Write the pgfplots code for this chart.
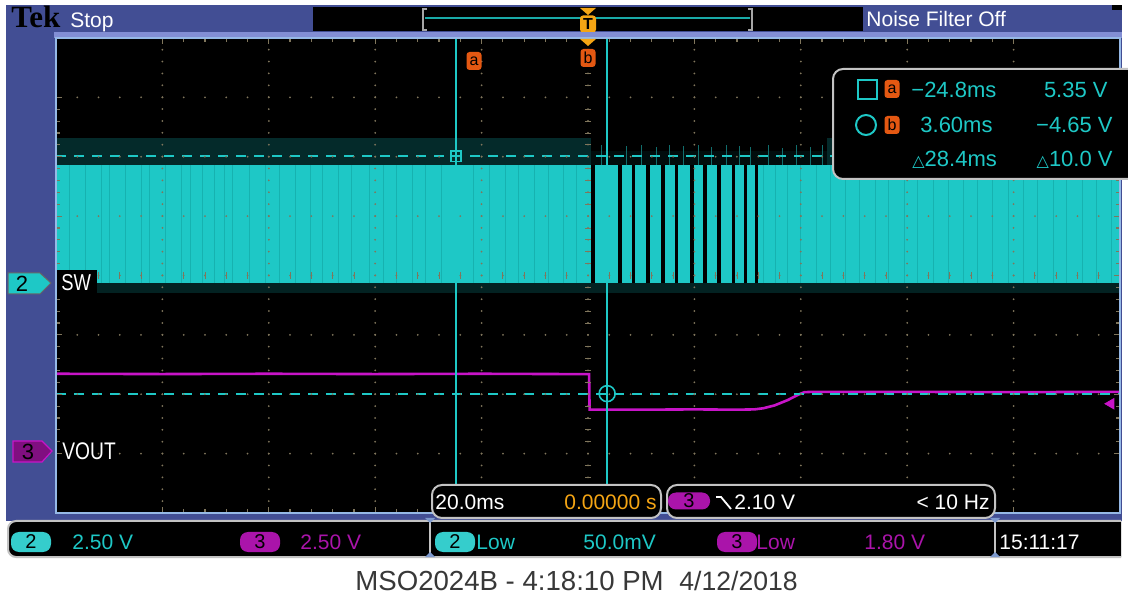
\documentclass[border=0pt]{standalone}
\usepackage{pgfplots}
\pgfplotsset{compat=1.18}
\usepackage{fontspec}
\setmainfont{Liberation Sans}
\newfontfamily\tek[FakeStretch=0.8]{Liberation Sans}
\newfontfamily\tekserif{Liberation Serif}
\newfontfamily\sym{DejaVu Sans}
\newcommand\fs[1]{\fontsize{#1}{#1}\selectfont}

\definecolor{frameblue}{RGB}{66,78,148}
\definecolor{topline}{RGB}{130,142,212}
\definecolor{gratline}{RGB}{150,185,230}
\definecolor{dotcol}{RGB}{128,118,92}
\definecolor{sw}{RGB}{30,200,198}
\definecolor{swdark}{RGB}{4,42,42}
\definecolor{swtex}{RGB}{22,178,176}
\definecolor{vout}{RGB}{200,20,200}
\definecolor{mag}{RGB}{170,20,170}
\definecolor{badge}{RGB}{228,88,18}
\definecolor{trigorange}{RGB}{245,165,20}
\definecolor{boxline}{RGB}{195,195,195}

\tikzset{
  pill/.style={rounded corners=4pt, inner sep=0pt, minimum height=10pt, minimum width=20pt, font=\fs{10}, text=black},
  badge/.style={fill=badge, rounded corners=1.5pt, inner sep=0pt, minimum width=7.5pt, minimum height=9pt, font=\fs{8}, text=black},
  lbl/.style={inner sep=0pt, font=\fs{10.5}},
  screen/.style={x=0.5pt, y=-0.5pt, shift={(0pt,299.5pt)}},
}

\begin{document}
\begin{tikzpicture}
\useasboundingbox (0pt,0pt) rectangle (564pt,299.5pt);
% screen coordinates: 1 unit = 1 px, origin top left, y downwards
\begin{scope}[screen]
\fill[white] (0,0) rectangle (1128,599);
\fill[frameblue] (6,5) rectangle (1122,521);

% status bar
\node[anchor=base west, inner sep=0pt, font=\tekserif\bfseries\fs{15.5}, text=black] at (11,28) {Tek};
\node[lbl, anchor=base west, text=white] at (70,28) {Stop};
\fill[black] (313,7) rectangle (863,31);
\draw[gray!70, line width=0.8pt] (427,9) -- (423,9) -- (423,30) -- (427,30);
\draw[gray!70, line width=0.8pt] (748,9) -- (752,9) -- (752,30) -- (748,30);
\draw[sw!85!black, line width=1.2pt] (425,18) -- (750,18);
\fill[trigorange] (580,8) -- (596,8) -- (588,15) -- cycle;
\node[fill=trigorange, rounded corners=1.5pt, inner sep=0pt, minimum width=8pt, minimum height=8.5pt, font=\bfseries\fs{8}] at (588,24) {T};
\node[lbl, anchor=base west, text=white] at (866,27) {Noise Filter Off};
\fill[black] (1112,5) rectangle (1122,10);
\fill[topline] (54,32) rectangle (1122,38);
\end{scope}

\begin{axis}[
  at={(28pt,43pt)}, anchor=south west,
  width=532pt, height=237.5pt, scale only axis,
  xmin=-100, xmax=100, ymin=-4, ymax=4,
  axis background/.style={fill=black},
  axis line style={draw=gratline, line width=1pt},
  axis on top,
  xtick={-80,-60,...,80}, ytick={-3,-2,...,3},
  minor x tick num=4, minor y tick num=4,
  xticklabels={}, yticklabels={},
  tick align=inside,
  major tick length=3pt, minor tick length=2pt,
  tick style={draw=dotcol, line width=0.6pt},
  grid=major,
  x grid style={draw=dotcol, line width=1pt, line cap=round, dash pattern=on 0pt off 5.94pt},
  y grid style={draw=dotcol, line width=1pt, line cap=round, dash pattern=on 0pt off 10.64pt},
  unbounded coords=jump,
]
% SW: noise bands
\addplot[fill=swdark, draw=none] coordinates {(-100,1.86) (-100,2.31) (0.5,2.31) (0.5,1.86)};
\addplot[fill=swdark, draw=none] coordinates {(45,1.86) (45,2.31) (100,2.31) (100,1.86)};
\addplot[fill=swdark!30!black, draw=none] coordinates {(0.5,1.86) (0.5,2.1) (45,2.1) (45,1.86)};
\addplot[fill=swdark!80!black, draw=none] coordinates {(-100,-0.3) (-100,-0.13) (100,-0.13) (100,-0.3)};
% SW: switching envelope
\addplot[fill=sw, draw=none] coordinates {(-100,-0.13) (-100,1.86) (100,1.86) (100,-0.13)};
% SW: texture in dense regions
\addplot[swtex, line width=0.4pt] coordinates {
(-97.5,-0.13) (-97.5,1.86) (-97.5,nan) (-94.5,-0.13) (-94.5,1.86) (-94.5,nan)
(-91.5,-0.13) (-91.5,1.86) (-91.5,nan) (-90,-0.13) (-90,1.86) (-90,nan)
(-87,-0.13) (-87,1.86) (-87,nan) (-84,-0.13) (-84,1.86) (-84,nan)
(-82.5,-0.13) (-82.5,1.86) (-82.5,nan) (-79.5,-0.13) (-79.5,1.86) (-79.5,nan)
(-76.5,-0.13) (-76.5,1.86) (-76.5,nan) (-74.8,-0.13) (-74.8,1.86) (-74.8,nan)
(-72.4,-0.13) (-72.4,1.86) (-72.4,nan) (-70.2,-0.13) (-70.2,1.86) (-70.2,nan)
(-68.3,-0.13) (-68.3,1.86) (-68.3,nan) (-66.8,-0.13) (-66.8,1.86) (-66.8,nan)
(-63.6,-0.13) (-63.6,1.86) (-63.6,nan) (-60.6,-0.13) (-60.6,1.86) (-60.6,nan)
(-58,-0.13) (-58,1.86) (-58,nan) (-55,-0.13) (-55,1.86) (-55,nan)
(-52.2,-0.13) (-52.2,1.86) (-52.2,nan) (-50,-0.13) (-50,1.86) (-50,nan)
(-47,-0.13) (-47,1.86) (-47,nan) (-44.5,-0.13) (-44.5,1.86) (-44.5,nan)
(-41,-0.13) (-41,1.86) (-41,nan) (-38.5,-0.13) (-38.5,1.86) (-38.5,nan)
(-36,-0.13) (-36,1.86) (-36,nan) (-33,-0.13) (-33,1.86) (-33,nan)
(-30.5,-0.13) (-30.5,1.86) (-30.5,nan) (-27.5,-0.13) (-27.5,1.86) (-27.5,nan)
(-21.5,-0.13) (-21.5,1.86) (-21.5,nan) (-18.5,-0.13) (-18.5,1.86) (-18.5,nan)
(-15.6,-0.13) (-15.6,1.86) (-15.6,nan) (-13,-0.13) (-13,1.86) (-13,nan)
(-10,-0.13) (-10,1.86) (-10,nan) (-7.4,-0.13) (-7.4,1.86) (-7.4,nan)
(-4.6,-0.13) (-4.6,1.86) (-4.6,nan) (-2.2,-0.13) (-2.2,1.86) (-2.2,nan)
(33,-0.13) (33,1.86) (33,nan) (35.2,-0.13) (35.2,1.86) (35.2,nan)
(37.5,-0.13) (37.5,1.86) (37.5,nan) (40,-0.13) (40,1.86) (40,nan)
(43,-0.13) (43,1.86) (43,nan) (45.6,-0.13) (45.6,1.86) (45.6,nan)
(48.4,-0.13) (48.4,1.86) (48.4,nan) (51,-0.13) (51,1.86) (51,nan)
(54,-0.13) (54,1.86) (54,nan) (56.5,-0.13) (56.5,1.86) (56.5,nan)
(59.5,-0.13) (59.5,1.86) (59.5,nan) (62,-0.13) (62,1.86) (62,nan)
(65,-0.13) (65,1.86) (65,nan) (67.7,-0.13) (67.7,1.86) (67.7,nan)
(70.5,-0.13) (70.5,1.86) (70.5,nan) (73.2,-0.13) (73.2,1.86) (73.2,nan)
(76,-0.13) (76,1.86) (76,nan) (79,-0.13) (79,1.86) (79,nan)
(81.8,-0.13) (81.8,1.86) (81.8,nan) (84.5,-0.13) (84.5,1.86) (84.5,nan)
(87.5,-0.13) (87.5,1.86) (87.5,nan) (90,-0.13) (90,1.86) (90,nan)
(93,-0.13) (93,1.86) (93,nan) (95.6,-0.13) (95.6,1.86) (95.6,nan)
(98.4,-0.13) (98.4,1.86)
};
% SW: gaps between pulses after the event
\addplot[black, line width=1.7pt] coordinates {
(0.94,-0.13) (0.94,1.86) (0.94,nan) (6.02,-0.13) (6.02,1.86) (6.02,nan)
(8.55,-0.13) (8.55,1.86) (8.55,nan) (11.28,-0.13) (11.28,1.86) (11.28,nan)
(14.1,-0.13) (14.1,1.86) (14.1,nan) (16.64,-0.13) (16.64,1.86) (16.64,nan)
(19.55,-0.13) (19.55,1.86) (19.55,nan) (22.0,-0.13) (22.0,1.86) (22.0,nan)
(24.6,-0.13) (24.6,1.86) (24.6,nan) (27.3,-0.13) (27.3,1.86) (27.3,nan)
(29.6,-0.13) (29.6,1.86) (29.6,nan) (31.7,-0.13) (31.7,1.86)
};
% SW: spikes above the envelope
\addplot[sw!55!black, line width=0.5pt] coordinates {
(2.5,1.86) (2.5,2.2) (2.5,nan) (7.3,1.86) (7.3,2.18) (7.3,nan)
(10,1.86) (10,2.2) (10,nan) (12.8,1.86) (12.8,2.16) (12.8,nan)
(15.4,1.86) (15.4,2.2) (15.4,nan) (18,1.86) (18,2.18) (18,nan)
(20.8,1.86) (20.8,2.2) (20.8,nan) (23.3,1.86) (23.3,2.17) (23.3,nan)
(26,1.86) (26,2.2) (26,nan) (28.4,1.86) (28.4,2.18) (28.4,nan)
(30.6,1.86) (30.6,2.16) (30.6,nan) (34,1.86) (34,2.2) (34,nan)
(36.6,1.86) (36.6,2.15) (36.6,nan) (39.2,1.86) (39.2,2.2) (39.2,nan)
(41.8,1.86) (41.8,2.17) (41.8,nan) (44,1.86) (44,2.2)
};
% VOUT (ch3, 2.50 V/div, ground at -2.97 div)
\addplot[vout, line width=1.3pt] coordinates {
(-100,-1.655) (-80,-1.66) (-60,-1.655) (-40,-1.66) (-20,-1.655) (-5,-1.66)
(0.2,-1.66) (0.3,-2.26) (10,-2.26) (20,-2.255) (28,-2.26) (31.3,-2.255)
(33,-2.235) (35,-2.19) (37.5,-2.1) (39.7,-2.0) (40.7,-1.965) (42,-1.96)
(60,-1.96) (80,-1.965) (100,-1.96)
};
% horizontal cursors a (5.35 V) and b (-4.65 V)
\addplot[sw, line width=1.1pt, dash pattern=on 5pt off 4pt] coordinates {(-100,2.01) (100,2.01)};
\addplot[sw, line width=1.1pt, dash pattern=on 5pt off 4pt] coordinates {(-100,-1.99) (100,-1.99)};
% vertical cursors a (-24.8 ms) and b (3.60 ms)
\addplot[sw, line width=1pt] coordinates {(-24.8,-4) (-24.8,4)};
\addplot[sw, line width=1pt] coordinates {(3.6,-4) (3.6,4)};
\addplot[sw, only marks, mark=square, mark size=2.6pt, mark options={line width=0.8pt}] coordinates {(-24.8,2.01)};
\addplot[sw, only marks, mark=o, mark size=4pt, mark options={line width=0.8pt}] coordinates {(3.6,-1.99)};
% trigger level marker (2.10 V on ch3)
\addplot[vout, only marks, mark=triangle*, mark size=3pt, mark options={rotate=90}] coordinates {(98.3,-2.16)};
% centre graticule ticks
\addplot[dotcol, only marks, mark=-, mark size=1.6pt] coordinates {
(0,-3.8) (0,-3.6) (0,-3.4) (0,-3.2) (0,-2.8) (0,-2.6) (0,-2.4) (0,-2.2)
(0,-1.8) (0,-1.6) (0,-1.4) (0,-1.2) (0,-0.8) (0,-0.6) (0,-0.4) (0,-0.2)
(0,0.2) (0,0.4) (0,0.6) (0,0.8) (0,1.2) (0,1.4) (0,1.6) (0,1.8)
(0,2.2) (0,2.4) (0,2.6) (0,2.8) (0,3.2) (0,3.4) (0,3.6) (0,3.8)};
\addplot[dotcol, only marks, mark=|, mark size=1.6pt] coordinates {
(-96,0) (-92,0) (-88,0) (-84,0) (-76,0) (-72,0) (-68,0) (-64,0)
(-56,0) (-52,0) (-48,0) (-44,0) (-36,0) (-32,0) (-28,0) (-24,0)
(-16,0) (-12,0) (-8,0) (-4,0) (4,0) (8,0) (12,0) (16,0)
(24,0) (28,0) (32,0) (36,0) (44,0) (48,0) (52,0) (56,0)
(64,0) (68,0) (72,0) (76,0) (84,0) (88,0) (92,0) (96,0)};
\end{axis}

\begin{scope}[screen]
% cursor / trigger position badges
\fill[trigorange] (580,39) -- (596,39) -- (588,46) -- cycle;
\node[badge] at (588,58) {b};
\node[badge] at (474,61) {a};

% channel markers and labels
\filldraw[fill=sw, draw=black!60, line width=0.5pt] (8,273) -- (40,273) -- (51,283) -- (40,294) -- (8,294) -- cycle;
\node[inner sep=0pt, font=\fs{11}, text=black] at (22,284) {2};
\filldraw[fill=mag!75!black, draw=vout, line width=0.6pt] (13,441) -- (42,441) -- (52,451) -- (42,462) -- (13,462) -- cycle;
\node[inner sep=0pt, font=\fs{11}, text=black] at (28,452) {3};
\fill[black] (57,270) rectangle (97,297);
\node[anchor=base west, inner sep=0pt, font=\tek\fs{11.5}, text=white] at (61,291) {SW};
\node[anchor=base west, inner sep=0pt, font=\tek\fs{12}, text=white] at (62,460) {VOUT};

% cursor readout
\draw[boxline, line width=1pt, fill=black, rounded corners=5pt] (1140,69) -- (833,69) -- (833,179) -- (1140,179);
\draw[sw, line width=1pt] (858,80) rectangle (877,99);
\node[badge] at (892,89) {a};
\node[anchor=base west, inner sep=0pt, font=\fs{11}, text=sw] at (911,98) {−24.8ms};
\node[anchor=base east, inner sep=0pt, font=\fs{11}, text=sw] at (1108,98) {5.35 V};
\draw[sw, line width=1pt] (866,125) circle[radius=5pt];
\node[badge] at (892,125) {b};
\node[anchor=base west, inner sep=0pt, font=\fs{11}, text=sw] at (920,133) {3.60ms};
\node[anchor=base east, inner sep=0pt, font=\fs{11}, text=sw] at (1113,133) {−4.65 V};
\node[anchor=base west, inner sep=0pt, font=\fs{11}, text=sw] at (912,167) {{\sym\fs{8}△}28.4ms};
\node[anchor=base east, inner sep=0pt, font=\fs{11}, text=sw] at (1113,167) {{\sym\fs{8}△}10.0 V};

% timebase and trigger boxes
\draw[boxline, line width=1pt, fill=black, rounded corners=5pt] (432,485) rectangle (661,518);
\node[lbl, anchor=base west, text=white] at (435,510) {20.0ms};
\node[lbl, anchor=base east, text=trigorange] at (657,510) {0.00000 s};
\draw[boxline, line width=1pt, fill=black, rounded corners=5pt] (667,485) rectangle (995,518);
\node[pill, fill=mag, minimum width=21pt, minimum height=8.5pt] at (689,501) {3};
\draw[white, line width=0.9pt] (716,497) -- (721,497) -- (731,509);
\node[lbl, anchor=base west, text=white] at (734,510) {2.10 V};
\node[lbl, anchor=base east, text=white] at (990,510) {< 10 Hz};

% bottom status strip
\draw[boxline, line width=1pt, fill=black, rounded corners=4pt] (1121,521) -- (8,521) -- (8,557) -- (1121,557);
\draw[boxline, line width=1pt] (430,518) -- (430,557);
\draw[boxline, line width=1pt] (995,518) -- (995,557);
\fill[gratline!70!frameblue] (425,518) -- (435,518) -- (430,523) -- cycle;
\fill[gratline!70!frameblue] (425,557) -- (435,557) -- (430,552) -- cycle;
\fill[gratline!70!frameblue] (990,518) -- (1000,518) -- (995,523) -- cycle;
\fill[gratline!70!frameblue] (990,557) -- (1000,557) -- (995,552) -- cycle;
\node[pill, fill=sw!90!white] at (31,542) {2};
\node[lbl, anchor=base west, text=sw] at (72,550) {2.50 V};
\node[pill, fill=mag] at (260,542) {3};
\node[lbl, anchor=base west, text=mag] at (300,550) {2.50 V};
\node[pill, fill=sw!90!white] at (455,542) {2};
\node[lbl, anchor=base west, text=sw] at (476,550) {Low};
\node[lbl, anchor=base west, text=sw] at (583,550) {50.0mV};
\node[pill, fill=mag] at (737,542) {3};
\node[lbl, anchor=base west, text=mag] at (756,550) {Low};
\node[lbl, anchor=base west, text=mag] at (864,550) {1.80 V};
\node[lbl, anchor=base west, text=white] at (999,550) {15:11:17};

% caption
\node[anchor=base west, inner sep=0pt, font=\fs{13.8}, text=black!78] at (355,590) {MSO2024B - 4:18:10 PM};
\node[anchor=base west, inner sep=0pt, font=\fs{13.3}, text=black!78] at (679,590) {4/12/2018};
\end{scope}
\end{tikzpicture}
\end{document}
